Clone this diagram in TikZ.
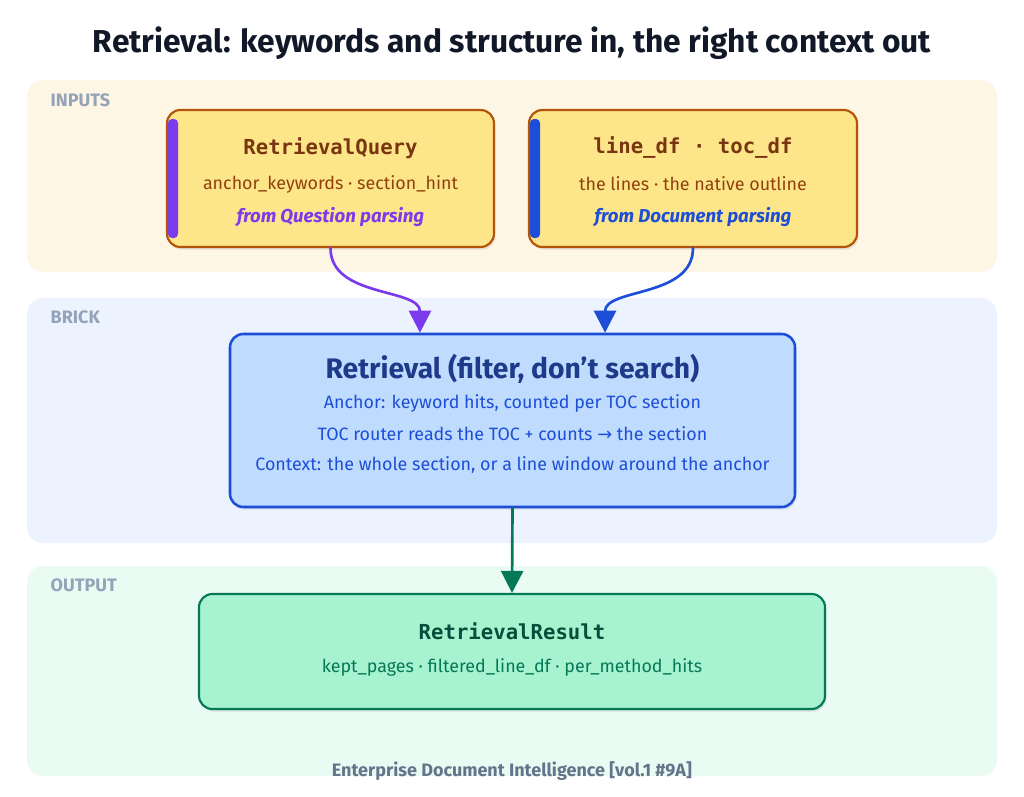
\documentclass[tikz,border=0pt]{standalone}
\usepackage{fontspec}
\setmainfont{Fira Sans}
\setmonofont{DejaVu Sans Mono}
\newfontfamily\symfont{DejaVu Sans}
\usetikzlibrary{arrows.meta,shadows}

\definecolor{inkdark}{HTML}{111827}
\definecolor{taggray}{HTML}{94A3B8}
\definecolor{footgray}{HTML}{64748B}
\definecolor{inbg}{HTML}{FEF6E4}
\definecolor{brickbg}{HTML}{EDF3FE}
\definecolor{outbg}{HTML}{E9FBF2}
\definecolor{cardyellow}{HTML}{FDE68A}
\definecolor{cardbrown}{HTML}{B45309}
\definecolor{browndark}{HTML}{78350F}
\definecolor{brownmid}{HTML}{92400E}
\definecolor{qviolet}{HTML}{7C3AED}
\definecolor{dblue}{HTML}{1D4ED8}
\definecolor{brickfill}{HTML}{BFDBFE}
\definecolor{bricknavy}{HTML}{1E3A8A}
\definecolor{outfill}{HTML}{A7F3D0}
\definecolor{outgreen}{HTML}{047857}
\definecolor{outdark}{HTML}{064E3B}

\begin{document}
\begin{tikzpicture}[x=0.75pt, y=-0.75pt, line join=round, line cap=round,
	font=\fontsize{13.4}{16}\selectfont,
	band/.style={rounded corners=12pt},
	card/.style={draw, rounded corners=10pt, line width=1.6pt,
		drop shadow={opacity=0.18, shadow xshift=1pt, shadow yshift=-2pt}},
	tag/.style={anchor=west, text=taggray, font=\fontsize{13.5}{16}\selectfont\bfseries},
	codename/.style={font=\fontsize{15.5}{18}\selectfont\ttfamily\bfseries},
	origin/.style={font=\fontsize{14}{16}\selectfont\bfseries\itshape},
	flow/.style={line width=2pt, -{Triangle[width=16.5pt, length=16.5pt]}},
	]
	
	\useasboundingbox (0,0) rectangle (1024,796);
	
	% bands
	\fill[band, inbg] (27,80) rectangle (997,272);
	\fill[band, brickbg] (27,298) rectangle (997,543);
	\fill[band, outbg] (27,566) rectangle (997,776);
	\node[tag] (tag-in) at (46,100) {INPUTS};
	\node[tag] (tag-brick) at (46,317) {BRICK};
	\node[tag] (tag-out) at (46,585) {OUTPUT};
	
	\node[text=inkdark, font=\fontsize{23.8}{28}\selectfont\bfseries] (title) at (512,43)
		{Retrieval: keywords and structure in, the right context out};
	
	% inputs
	\node[card, fill=cardyellow, draw=cardbrown, minimum width=245.25pt, minimum height=102.75pt] (query) at (330.5,178.5) {};
	\node[card, fill=cardyellow, draw=cardbrown, minimum width=246pt, minimum height=102.75pt] (docs) at (693,178.5) {};
	\fill[qviolet, rounded corners=3pt] (168,119) rectangle (178,238);
	\fill[dblue, rounded corners=3pt] (530,119) rectangle (540,238);
	
	\node[text=browndark, codename] (query-name) at (330.5,148) {RetrievalQuery};
	\node[text=brownmid] (query-fields) at (330.5,184) {anchor\_keywords · section\_hint};
	\node[text=qviolet, origin] (query-from) at (330.5,217) {from Question parsing};
	
	\node[text=browndark, codename] (docs-name) at (693,148) {line\_df · toc\_df};
	\node[text=brownmid] (docs-fields) at (693,184) {the lines · the native outline};
	\node[text=dblue, origin] (docs-from) at (693,217) {from Document parsing};
	
	% brick
	\node[card, fill=brickfill, draw=dblue, line width=1.9pt, minimum width=423.75pt, minimum height=129.75pt] (brick) at (512.5,420.5) {};
	\node[text=bricknavy, font=\fontsize{21.2}{25}\selectfont\bfseries] (brick-name) at (512.5,369) {Retrieval (filter, don't search)};
	\node[text=dblue] (brick-anchor) at (512.5,403) {Anchor: keyword hits, counted per TOC section};
	\node[text=dblue] (brick-router) at (512.5,434) {TOC router reads the TOC + counts {\symfont →} the section};
	\node[text=dblue] (brick-context) at (512.5,465) {Context: the whole section, or a line window around the anchor};
	
	% output
	\node[card, fill=outfill, draw=outgreen, minimum width=469.5pt, minimum height=86.25pt] (result) at (512,651.5) {};
	\node[text=outdark, codename] (result-name) at (512,631) {RetrievalResult};
	\node[text=outgreen] (result-fields) at (512,667) {kept\_pages · filtered\_line\_df · per\_method\_hits};
	
	\node[text=footgray, font=\fontsize{13.5}{16}\selectfont\bfseries] (footer) at (512,771) {Enterprise Document Intelligence [vol.1 \#9A]};
	
	% connectors
	\draw[flow, qviolet] (query.south) .. controls +(0,50) and +(0,-45) .. ([xshift=-69.4pt]brick.north);
	\draw[flow, dblue] (docs.south) .. controls +(0,50) and +(0,-45) .. ([xshift=69.4pt]brick.north);
	\draw[flow, outgreen] (brick.south) -- (result.north);
	
\end{tikzpicture}
\end{document}
